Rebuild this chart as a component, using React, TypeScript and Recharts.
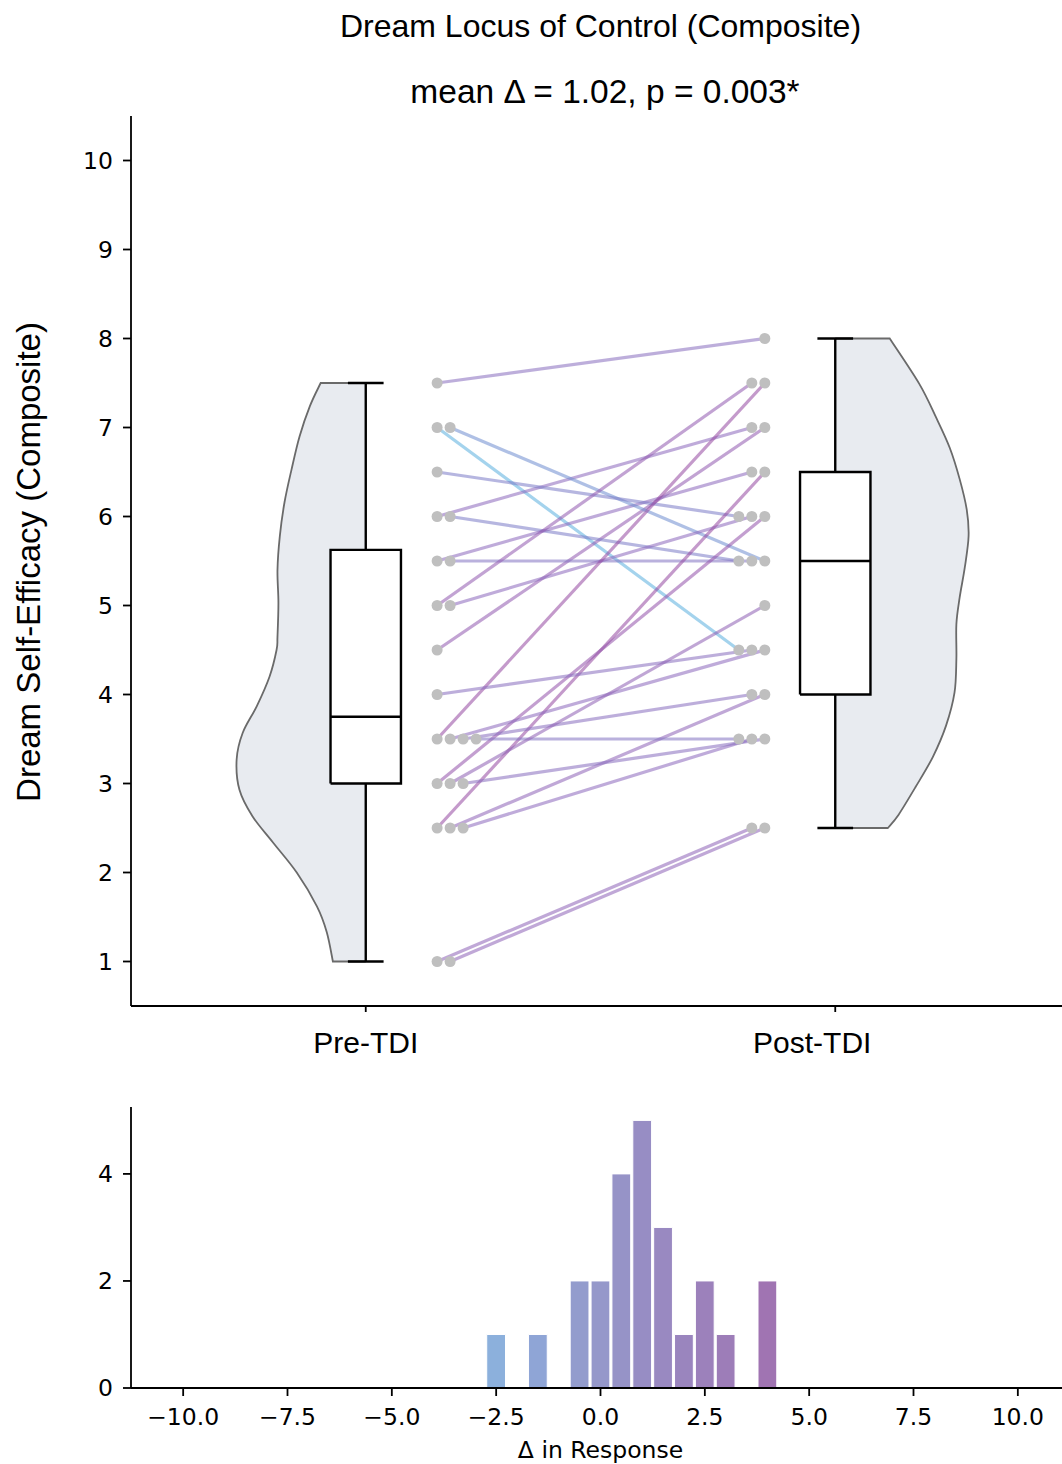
import React from "react";
import { Bar, BarChart, Cell, ComposedChart, Scatter, XAxis, YAxis } from "recharts";

const groupLabels = ["Pre-TDI", "Post-TDI"];
const mainYTicks = [1, 2, 3, 4, 5, 6, 7, 8, 9, 10];

// one entry per participant, pre -> post
const preScores = [7.5, 7, 6, 4.5, 6, 5.5, 5.5, 7, 6.5, 5, 5, 2.5, 3, 3.5, 4, 3.5, 3.5, 2.5, 3.5, 3, 2.5, 3, 1, 1];
const postScores = [8, 4.5, 7, 7, 5.5, 6.5, 5.5, 5.5, 6, 7.5, 6, 6.5, 6, 7.5, 4.5, 4.5, 4, 4, 3.5, 5, 3.5, 3.5, 2.5, 2.5];

// box plot stats, [pre, post]
const q1 = [3, 4];
const median = [3.75, 5.5];
const q3 = [5.625, 6.5];
const whiskerLow = [1, 2.5];
const whiskerHigh = [7.5, 8];

// half violin outlines: score level + half width
const preViolinY = [7.5, 7.24, 6.9, 6.53, 6.16, 5.78, 5.4, 5.03, 4.65, 4.5, 4.2, 3.87, 3.57, 3.27, 2.93, 2.63, 2.34, 2.0, 1.62, 1.33, 1.0];
const preViolinW = [0.096, 0.119, 0.141, 0.158, 0.173, 0.183, 0.188, 0.186, 0.188, 0.19, 0.205, 0.232, 0.262, 0.275, 0.269, 0.241, 0.198, 0.147, 0.104, 0.083, 0.07];
const postViolinY = [8.0, 7.49, 7.11, 6.77, 6.42, 6.08, 5.78, 5.43, 5.09, 4.79, 4.4, 4.02, 3.65, 3.3, 2.96, 2.65, 2.5];
const postViolinW = [0.116, 0.179, 0.215, 0.244, 0.265, 0.28, 0.284, 0.276, 0.265, 0.258, 0.258, 0.254, 0.236, 0.208, 0.171, 0.135, 0.112];

// histogram of post - pre
const deltaBins = [-2.5, -1.5, -0.5, 0, 0.5, 1, 1.5, 2, 2.5, 3, 4];
const deltaCounts = [1, 1, 2, 2, 4, 5, 3, 1, 2, 1, 2];
const histXTicks = [-10, -7.5, -5, -2.5, 0, 2.5, 5, 7.5, 10];
const histYTicks = [0, 2, 4];

const SANS = "'Liberation Sans', Arial, sans-serif";
const DEJA = "'DejaVu Sans', sans-serif";

const lineStops: [number, string][] = [
  [-2.5, "#59afdf"],
  [-1.5, "#6d8ccf"],
  [0, "#8171c1"],
  [1, "#8a66bb"],
  [4, "#9447a0"],
];
const barStops: [number, string][] = [
  [-2.5, "#8cb0dc"],
  [-1.5, "#8fa5d6"],
  [-0.5, "#939ccd"],
  [0, "#9598ca"],
  [1, "#978dc4"],
  [2.5, "#9c81bb"],
  [4, "#a074b2"],
];

function hex(c: string) {
  return [1, 3, 5].map((i) => parseInt(c.slice(i, i + 2), 16));
}

function ramp(stops: [number, string][], v: number) {
  if (v <= stops[0][0]) return stops[0][1];
  for (let i = 1; i < stops.length; i++) {
    if (v <= stops[i][0]) {
      const [v0, c0] = stops[i - 1];
      const [v1, c1] = stops[i];
      const t = (v - v0) / (v1 - v0);
      const a = hex(c0);
      const b = hex(c1);
      return "#" + a.map((x, k) => Math.round(x + (b[k] - x) * t).toString(16).padStart(2, "0")).join("");
    }
  }
  return stops[stops.length - 1][1];
}

// spread repeated values sideways; pre grows to the right, post is right-aligned
function jitterLeft(values: number[], start: number, step: number) {
  const seen: Record<string, number> = {};
  return values.map((v) => {
    const i = seen[v] ?? 0;
    seen[v] = i + 1;
    return start + step * i;
  });
}

function jitterRight(values: number[], end: number, step: number) {
  const total: Record<string, number> = {};
  values.forEach((v) => (total[v] = (total[v] ?? 0) + 1));
  const seen: Record<string, number> = {};
  return values.map((v) => {
    const i = seen[v] ?? 0;
    seen[v] = i + 1;
    return end - step * (total[v] - 1 - i);
  });
}

const preX = jitterLeft(preScores, 0.152, 0.0277);
const postX = jitterRight(postScores, 0.85, 0.0277);

const dots = [
  ...preScores.map((y, i) => ({ x: preX[i], y })),
  ...postScores.map((y, i) => ({ x: postX[i], y })),
];

const preViolin = [
  { x: 0, y: preViolinY[0] },
  ...preViolinY.map((y, i) => ({ x: -preViolinW[i], y })),
  { x: 0, y: preViolinY[preViolinY.length - 1] },
];
const postViolin = [
  { x: 1, y: postViolinY[0] },
  ...postViolinY.map((y, i) => ({ x: 1 + postViolinW[i], y })),
  { x: 1, y: postViolinY[postViolinY.length - 1] },
];

const histData = deltaBins.map((x, i) => ({ x, count: deltaCounts[i] }));

const axisStyle = { stroke: "#000", strokeWidth: 1.8 };
const noDot = () => <g />;
const GreyDot = (p: any) => <circle cx={p.cx} cy={p.cy} r={5.5} fill="#bfbfbf" />;

// straight flat ends, catmull-rom through the outline in between
function smoothOutline(pts: { x: number; y: number }[]) {
  const n = pts.length;
  let d = `M${pts[0].x},${pts[0].y} L${pts[1].x},${pts[1].y}`;
  for (let i = 1; i < n - 2; i++) {
    const p0 = pts[Math.max(1, i - 1)];
    const p1 = pts[i];
    const p2 = pts[i + 1];
    const p3 = pts[Math.min(n - 2, i + 2)];
    const c1x = p1.x + (p2.x - p0.x) / 6;
    const c1y = p1.y + (p2.y - p0.y) / 6;
    const c2x = p2.x - (p3.x - p1.x) / 6;
    const c2y = p2.y - (p3.y - p1.y) / 6;
    d += ` C${c1x},${c1y} ${c2x},${c2y} ${p2.x},${p2.y}`;
  }
  d += ` L${pts[n - 1].x},${pts[n - 1].y}`;
  return d;
}

const violinLine = (props: any) => (
  <path d={smoothOutline(props.points)} fill="#e8ebf0" stroke="#6a6a6a" strokeWidth={1.8} />
);

function path(key: string, pts: { x: number; y: number }[], style: any) {
  return (
    <Scatter
      key={key}
      data={pts}
      shape={noDot}
      line={style}
      isAnimationActive={false}
      legendType="none"
    />
  );
}

function GroupTick(props: any) {
  const { x, y, payload } = props;
  const shift = payload.value === 1 ? -23 : 0;
  return (
    <text x={x + shift} y={y} dy="0.71em" textAnchor="middle" fontFamily={SANS} fontSize={30} fill="#000">
      {groupLabels[payload.value]}
    </text>
  );
}

const fmtDelta = (v: number) => (v < 0 ? "\u2212" : "") + Math.abs(v).toFixed(1);

export default function App() {
  const boxes = [0, 1].map((c) => {
    const h = 0.075;
    const cap = 0.038;
    const k = { stroke: "#000", strokeWidth: 2.4 };
    return [
      path(`box${c}`, [
        { x: c - h, y: q1[c] },
        { x: c + h, y: q1[c] },
        { x: c + h, y: q3[c] },
        { x: c - h, y: q3[c] },
        { x: c - h, y: q1[c] },
      ], { ...k, fill: "#fff" }),
      path(`wlo${c}`, [{ x: c, y: q1[c] }, { x: c, y: whiskerLow[c] }], k),
      path(`whi${c}`, [{ x: c, y: q3[c] }, { x: c, y: whiskerHigh[c] }], k),
      path(`clo${c}`, [{ x: c - cap, y: whiskerLow[c] }, { x: c + cap, y: whiskerLow[c] }], k),
      path(`chi${c}`, [{ x: c - cap, y: whiskerHigh[c] }, { x: c + cap, y: whiskerHigh[c] }], k),
      path(`med${c}`, [{ x: c - h, y: median[c] }, { x: c + h, y: median[c] }], k),
    ];
  });

  const pairs = preScores.map((pre, i) =>
    path(`pair${i}`, [{ x: preX[i], y: pre }, { x: postX[i], y: postScores[i] }], {
      stroke: ramp(lineStops, postScores[i] - pre),
      strokeWidth: 3.2,
      strokeOpacity: 0.55,
    })
  );

  return (
    <div style={{ position: "absolute", left: 0, top: 0, width: 1062, height: 1464, overflow: "hidden", background: "#fff" }}>
      <div style={{ position: "absolute", left: 0, top: 0 }}>
        <ComposedChart width={1080} height={1080} margin={{ top: 116, right: 10, bottom: 0, left: 0 }}>
          <XAxis
            type="number"
            dataKey="x"
            domain={[-0.5, 1.5]}
            ticks={[0, 1]}
            interval={0}
            allowDataOverflow
            height={74}
            tickSize={6}
            tickMargin={20}
            tick={GroupTick}
            axisLine={axisStyle}
            tickLine={axisStyle}
          />
          <YAxis
            type="number"
            dataKey="y"
            domain={[0.5, 10.5]}
            ticks={mainYTicks}
            interval={0}
            allowDataOverflow
            width={131}
            tickSize={8}
            tickMargin={10}
            tick={{ fill: "#000", fontSize: 23.5, fontFamily: DEJA }}
            axisLine={axisStyle}
            tickLine={axisStyle}
          />
          {path("vpre", preViolin, violinLine)}
          {path("vpost", postViolin, violinLine)}
          {boxes}
          {pairs}
          <Scatter data={dots} shape={GreyDot} isAnimationActive={false} legendType="none" />
        </ComposedChart>
      </div>

      <div style={{ position: "absolute", left: 0, top: 1090 }}>
        <BarChart width={1080} height={374} data={histData} margin={{ top: 17, right: 10, bottom: 0, left: 0 }}>
          <XAxis
            type="number"
            dataKey="x"
            domain={[-11.25, 11.25]}
            ticks={histXTicks}
            interval={0}
            allowDataOverflow
            height={76}
            tickSize={8}
            tickMargin={12}
            tickFormatter={fmtDelta}
            tick={{ fill: "#000", fontSize: 23.5, fontFamily: DEJA }}
            axisLine={axisStyle}
            tickLine={axisStyle}
            label={{ value: "\u0394 in Response", position: "insideBottom", offset: 6, fill: "#000", fontSize: 23.5, fontFamily: DEJA }}
          />
          <YAxis
            type="number"
            domain={[0, 5.25]}
            ticks={histYTicks}
            interval={0}
            allowDataOverflow
            width={131}
            tickSize={8}
            tickMargin={10}
            tick={{ fill: "#000", fontSize: 23.5, fontFamily: DEJA }}
            axisLine={axisStyle}
            tickLine={axisStyle}
          />
          <Bar dataKey="count" barSize={21} stroke="#fff" strokeWidth={1} isAnimationActive={false}>
            {histData.map((d, i) => (
              <Cell key={i} fill={ramp(barStops, d.x)} />
            ))}
          </Bar>
        </BarChart>
      </div>

      <svg width={1062} height={1464} style={{ position: "absolute", left: 0, top: 0, pointerEvents: "none" }}>
        <text x={600.5} y={37} textAnchor="middle" fontFamily={SANS} fontSize={32} fill="#000">
          Dream Locus of Control (Composite)
        </text>
        <text x={605} y={103} textAnchor="middle" fontFamily={SANS} fontSize={33.5} fill="#000">
          mean Δ = 1.02, p = 0.003*
        </text>
        <text transform="translate(40 562) rotate(-90)" textAnchor="middle" fontFamily={SANS} fontSize={33} fill="#000">
          Dream Self-Efficacy (Composite)
        </text>
      </svg>
    </div>
  );
}
